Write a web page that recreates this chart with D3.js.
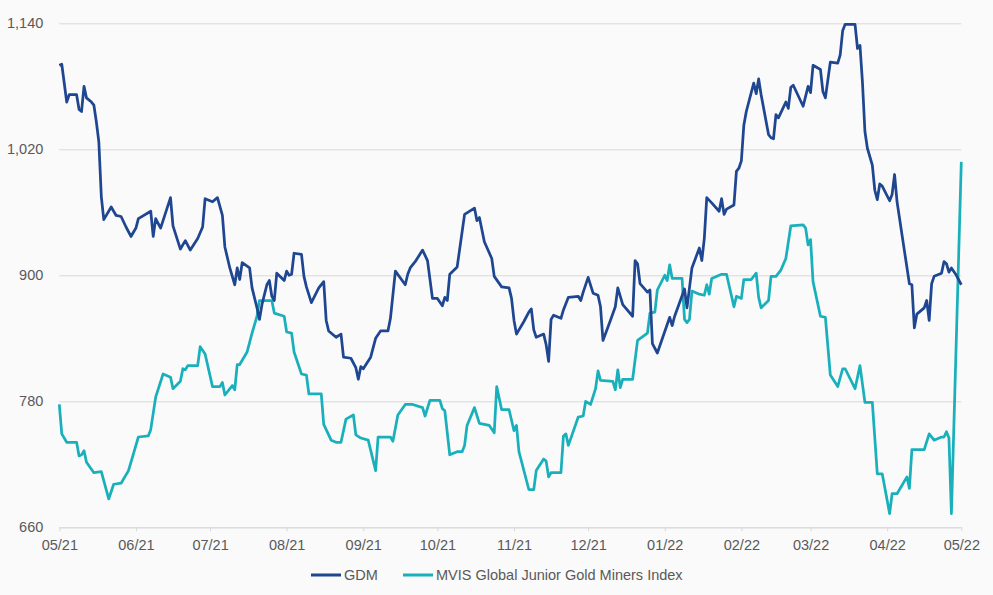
<!DOCTYPE html>
<html lang="en">
<head>
    <meta charset="UTF-8">
    <title>GDM vs MVIS Global Junior Gold Miners Index</title>
    <style>
        body {
            margin: 0;
            background: #fafafa;
        }
        text {
            font-family: "Liberation Sans", Arial, sans-serif;
        }
    </style>
    <script src="https://cdn.jsdelivr.net/npm/d3@7"></script>
</head>
<body>
    <script>
        // series (dates are where the vertices sit)
        const gdmDates = ['2021-05-01','2021-05-02','2021-05-04','2021-05-05','2021-05-08','2021-05-09','2021-05-10','2021-05-11','2021-05-12','2021-05-14','2021-05-15','2021-05-16','2021-05-17','2021-05-18','2021-05-19','2021-05-22','2021-05-24','2021-05-26','2021-05-28','2021-05-30',
            '2021-06-01','2021-06-02','2021-06-07','2021-06-08','2021-06-09','2021-06-11','2021-06-15','2021-06-16','2021-06-19','2021-06-21','2021-06-23','2021-06-26','2021-06-28','2021-06-29',
            '2021-07-01','2021-07-02','2021-07-04','2021-07-06','2021-07-07','2021-07-09','2021-07-11','2021-07-12','2021-07-13','2021-07-14','2021-07-17','2021-07-18','2021-07-20','2021-07-21','2021-07-22','2021-07-24','2021-07-25','2021-07-26','2021-07-27','2021-07-28','2021-07-31',
            '2021-08-01','2021-08-02','2021-08-03','2021-08-04','2021-08-07','2021-08-08','2021-08-09','2021-08-11','2021-08-14','2021-08-16','2021-08-17','2021-08-18','2021-08-21','2021-08-23','2021-08-24','2021-08-27','2021-08-29','2021-08-30','2021-08-31',
            '2021-09-01','2021-09-04','2021-09-06','2021-09-08','2021-09-11','2021-09-12','2021-09-14','2021-09-18','2021-09-19','2021-09-20','2021-09-22','2021-09-25','2021-09-27','2021-09-29',
            '2021-10-01','2021-10-03','2021-10-04','2021-10-05','2021-10-06','2021-10-09','2021-10-12','2021-10-16','2021-10-17','2021-10-18','2021-10-20','2021-10-23','2021-10-24','2021-10-27','2021-10-30','2021-10-31',
            '2021-11-01','2021-11-02','2021-11-05','2021-11-07','2021-11-08','2021-11-09','2021-11-10','2021-11-13','2021-11-14','2021-11-15','2021-11-16','2021-11-17','2021-11-20','2021-11-21','2021-11-23','2021-11-27','2021-11-28','2021-11-29',
            '2021-12-01','2021-12-03','2021-12-05','2021-12-06','2021-12-07','2021-12-10','2021-12-12','2021-12-13','2021-12-15','2021-12-19','2021-12-20','2021-12-21','2021-12-22','2021-12-25','2021-12-26','2021-12-27','2021-12-29',
            '2022-01-03','2022-01-04','2022-01-05','2022-01-09','2022-01-10','2022-01-12','2022-01-15','2022-01-16','2022-01-17','2022-01-18','2022-01-20','2022-01-23','2022-01-24','2022-01-25','2022-01-26','2022-01-29','2022-01-30','2022-01-31',
            '2022-02-01','2022-02-02','2022-02-03','2022-02-06','2022-02-07','2022-02-08','2022-02-09','2022-02-12','2022-02-13','2022-02-14','2022-02-15','2022-02-16','2022-02-19','2022-02-20','2022-02-21','2022-02-22','2022-02-26','2022-02-28',
            '2022-03-01','2022-03-02','2022-03-05','2022-03-06','2022-03-07','2022-03-09','2022-03-12','2022-03-13','2022-03-14','2022-03-15','2022-03-19','2022-03-20','2022-03-21','2022-03-22','2022-03-23','2022-03-24','2022-03-26','2022-03-27','2022-03-28','2022-03-29','2022-03-30',
            '2022-04-02','2022-04-03','2022-04-04','2022-04-05','2022-04-08','2022-04-10','2022-04-11','2022-04-12','2022-04-13','2022-04-16','2022-04-17','2022-04-18','2022-04-19','2022-04-20','2022-04-23','2022-04-24','2022-04-25','2022-04-26','2022-04-27','2022-04-29','2022-05-01']
        const gdmValues = [1100,1101,1065,1072,1072,1058,1056,1080,1069,1065,1062,1046,1027,975,953,965,957,956,946,937,
            945,954,961,937,954,945,974,947,925,933,924,935,946,973,
            971,970,974,957,927,907,891,907,896,912,907,888,869,858,872,891,895,880,876,902,895,
            904,900,901,921,920,899,889,874,888,894,857,847,841,844,822,821,812,801,813,
            811,822,840,847,847,859,904,891,901,907,913,924,914,878,
            878,871,879,876,901,908,958,964,952,955,932,916,899,889,888,878,
            857,844,856,865,868,848,841,844,834,818,858,862,859,867,879,880,876,884,
            898,883,881,870,838,857,870,888,872,861,914,911,892,884,886,835,826,
            860,852,861,887,869,907,926,914,935,974,969,961,973,958,963,967,999,1002,
            1009,1043,1056,1083,1073,1087,1072,1034,1031,1030,1053,1050,1065,1059,1079,1081,1061,1080,
            1074,1100,1096,1075,1069,1103,1102,1110,1133,1139,1139,1116,1119,1084,1037,1021,1005,981,972,987,985,
            971,977,996,970,923,892,891,850,863,869,876,857,892,899,902,913,911,903,907,900,891]

        const mvisDates = ['2021-05-01','2021-05-02','2021-05-04','2021-05-08','2021-05-09','2021-05-10','2021-05-11','2021-05-12','2021-05-15','2021-05-18','2021-05-21','2021-05-23','2021-05-26','2021-05-29','2021-05-31',
            '2021-06-02','2021-06-06','2021-06-07','2021-06-09','2021-06-12','2021-06-15','2021-06-16','2021-06-19','2021-06-20','2021-06-21','2021-06-22','2021-06-26','2021-06-27','2021-06-29',
            '2021-07-02','2021-07-05','2021-07-06','2021-07-07','2021-07-10','2021-07-11','2021-07-12','2021-07-13','2021-07-16','2021-07-18','2021-07-20','2021-07-21','2021-07-26','2021-07-27','2021-07-31',
            '2021-08-01','2021-08-03','2021-08-04','2021-08-07','2021-08-09','2021-08-10','2021-08-15','2021-08-16','2021-08-19','2021-08-21','2021-08-23','2021-08-25','2021-08-28','2021-08-29','2021-08-31',
            '2021-09-03','2021-09-06','2021-09-07','2021-09-12','2021-09-13','2021-09-15','2021-09-18','2021-09-21','2021-09-25','2021-09-26','2021-09-28',
            '2021-10-02','2021-10-03','2021-10-04','2021-10-06','2021-10-09','2021-10-11','2021-10-12','2021-10-13','2021-10-16','2021-10-18','2021-10-22','2021-10-24','2021-10-25','2021-10-27','2021-10-30',
            '2021-11-01','2021-11-02','2021-11-03','2021-11-07','2021-11-09','2021-11-10','2021-11-13','2021-11-14','2021-11-15','2021-11-16','2021-11-20','2021-11-21','2021-11-22','2021-11-23','2021-11-27','2021-11-29','2021-11-30',
            '2021-12-02','2021-12-04','2021-12-05','2021-12-06','2021-12-11','2021-12-12','2021-12-13','2021-12-14','2021-12-15','2021-12-19','2021-12-21','2021-12-25','2021-12-26','2021-12-28','2021-12-29',
            '2022-01-01','2022-01-02','2022-01-03','2022-01-04','2022-01-08','2022-01-09','2022-01-10','2022-01-11','2022-01-12','2022-01-15','2022-01-17','2022-01-18','2022-01-19','2022-01-20','2022-01-24','2022-01-26','2022-01-29','2022-01-30',
            '2022-02-01','2022-02-02','2022-02-05','2022-02-07','2022-02-08','2022-02-09','2022-02-12','2022-02-13','2022-02-15','2022-02-17','2022-02-19','2022-02-21','2022-02-26','2022-02-27','2022-02-28',
            '2022-03-01','2022-03-02','2022-03-05','2022-03-07','2022-03-09','2022-03-12','2022-03-14','2022-03-15','2022-03-19','2022-03-21','2022-03-23','2022-03-26','2022-03-28','2022-03-30',
            '2022-04-02','2022-04-03','2022-04-05','2022-04-09','2022-04-10','2022-04-11','2022-04-16','2022-04-18','2022-04-20','2022-04-23','2022-04-24','2022-04-25','2022-04-26','2022-04-27','2022-05-01']
        const mvisValues = [777,749,741,741,728,729,733,722,712,713,687,701,702,714,730,
            746,747,753,784,806,803,792,799,811,810,814,814,832,825,
            794,794,798,786,795,791,815,815,827,845,861,876,876,864,861,
            846,845,827,806,805,787,787,758,743,741,741,763,767,748,745,
            743,714,746,746,742,767,777,777,774,766,781,
            781,773,771,729,732,732,738,757,774,759,757,750,794,772,772,
            752,757,732,696,696,714,725,723,708,712,712,747,749,738,765,766,780,
            777,792,809,800,799,791,810,793,801,801,838,845,864,865,886,
            900,895,910,897,897,858,855,858,885,882,881,891,882,897,901,901,870,880,
            878,896,896,902,879,869,876,899,899,905,916,947,948,945,929,
            934,894,861,860,805,794,811,811,792,814,779,779,711,711,
            673,692,692,708,697,734,734,749,743,746,746,751,745,673,1008]

        const yTicks = [660, 780, 900, 1020, 1140]
        const seriesNames = ['GDM', 'MVIS Global Junior Gold Miners Index']
        const seriesColors = ['#1f4690', '#1ab0bb']

        const width = 993
        const height = 595
        const margin = { top: 23.3, right: 31.7, bottom: 67.7, left: 59.3 }

        const parse = d3.timeParse('%Y-%m-%d')
        const gdm = gdmDates.map((d, i) => ({ date: parse(d), value: gdmValues[i] }))
        const mvis = mvisDates.map((d, i) => ({ date: parse(d), value: mvisValues[i] }))

        let svg = d3.select('body').append('svg').attr('width', width).attr('height', height)
        svg.append('rect').attr('width', width).attr('height', height).attr('fill', '#fafafa')

        let xscale = d3.scaleTime()
            .domain([parse('2021-05-01'), parse('2022-05-01')])
            .range([margin.left, width - margin.right])
        let yscale = d3.scaleLinear()
            .domain([660, 1140])
            .range([height - margin.bottom, margin.top])

        // horizontal grid + y labels
        let yAxis = d3.axisLeft(yscale)
            .tickValues(yTicks)
            .tickFormat(d3.format(','))
            .tickSize(-(width - margin.left - margin.right))
            .tickPadding(16)
        let gy = svg.append('g').attr('class', 'yAxis')
            .attr('transform', `translate(${margin.left}, 0)`)
            .call(yAxis)
        gy.select('.domain').remove()
        gy.selectAll('line').attr('stroke', '#d9d9d9').attr('stroke-width', 1)
        gy.selectAll('text').attr('fill', '#595959').style('font-size', '14.5px')

        // x axis, monthly ticks
        let xAxis = d3.axisBottom(xscale)
            .ticks(d3.timeMonth.every(1))
            .tickFormat(d3.timeFormat('%m/%y'))
            .tickSize(4)
            .tickSizeOuter(0)
            .tickPadding(8)
        let gx = svg.append('g').attr('class', 'xAxis')
            .attr('transform', `translate(0, ${height - margin.bottom})`)
            .call(xAxis)
        gx.select('.domain').attr('stroke', '#d9d9d9')
        gx.selectAll('line').attr('stroke', '#d9d9d9')
        gx.selectAll('text').attr('fill', '#595959').style('font-size', '14.5px')

        let line = d3.line().x(d => xscale(d.date)).y(d => yscale(d.value))

        // teal first so the navy sits on top
        svg.append('path').datum(mvis)
            .attr('d', line)
            .attr('fill', 'none')
            .attr('stroke', seriesColors[1])
            .attr('stroke-width', 2.75)
            .attr('stroke-linejoin', 'round')
        svg.append('path').datum(gdm)
            .attr('d', line)
            .attr('fill', 'none')
            .attr('stroke', seriesColors[0])
            .attr('stroke-width', 2.75)
            .attr('stroke-linejoin', 'round')

        // legend
        const legendX = [311, 403]
        let legend = svg.append('g').attr('class', 'legend')
        seriesNames.forEach((name, i) => {
            legend.append('line')
                .attr('x1', legendX[i]).attr('x2', legendX[i] + 30)
                .attr('y1', 575).attr('y2', 575)
                .attr('stroke', seriesColors[i])
                .attr('stroke-width', 3)
            legend.append('text')
                .attr('x', legendX[i] + 33)
                .attr('y', 580)
                .attr('fill', '#595959')
                .style('font-size', '14.5px')
                .text(name)
        })
    </script>
</body>
</html>
